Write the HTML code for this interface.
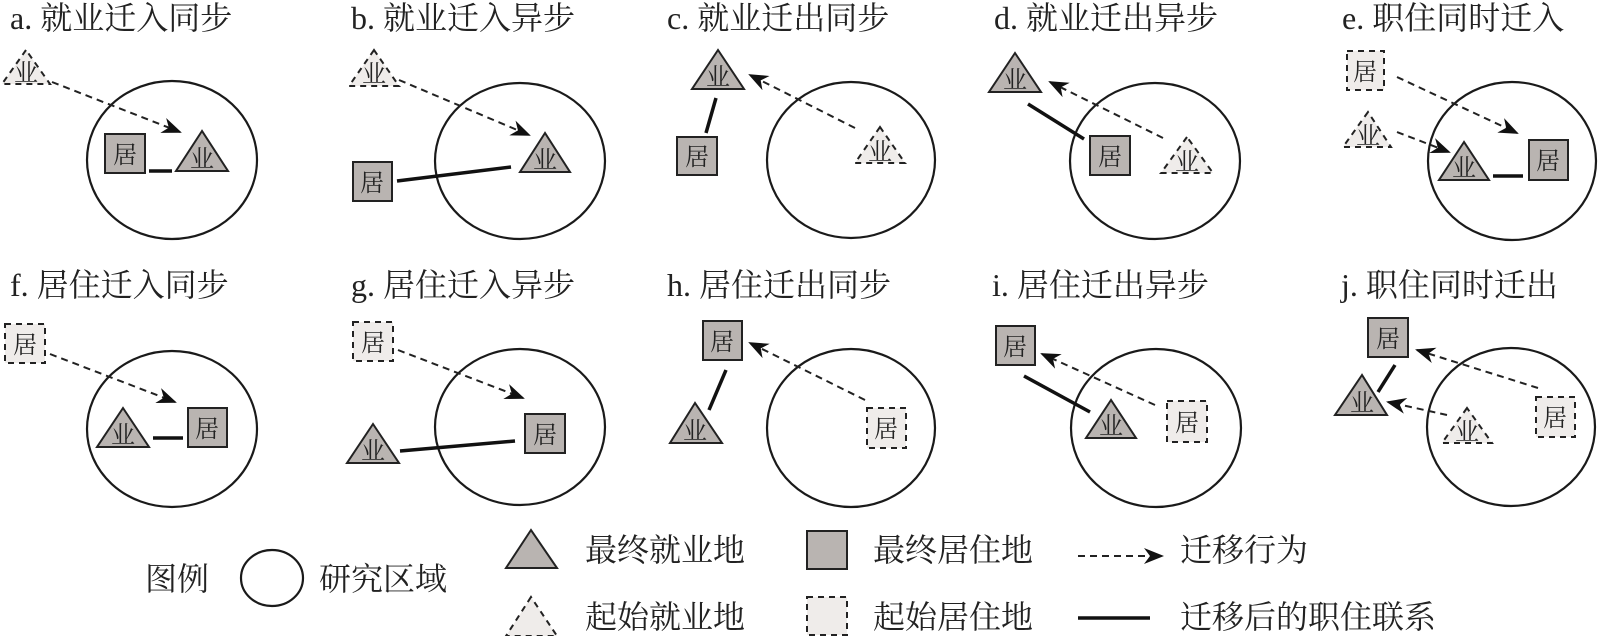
<!DOCTYPE html>
<html><head><meta charset="utf-8"><style>
html,body{margin:0;padding:0;background:#fff;}
svg{display:block;}
text{font-family:"Liberation Serif","Noto Serif CJK SC","Noto Sans CJK SC",serif;fill:#222;}
.t{font-size:32px;}
.l{font-size:32px;}
.s{font-size:24px;text-anchor:middle;}
.c{fill:none;stroke:#1a1a1a;stroke-width:2.2;}
.ft{fill:#b9b4b1;stroke:#222;stroke-width:2;}
.dt{fill:#efecea;stroke:#222;stroke-width:2;stroke-dasharray:6,5;}
.ln{stroke:#111;stroke-width:3.5;}
.ar{stroke:#222;stroke-width:2;stroke-dasharray:7,5;fill:none;}
</style></head><body>
<svg width="1598" height="636" viewBox="0 0 1598 636" xmlns="http://www.w3.org/2000/svg">
<defs>
<marker id="ah" markerWidth="20" markerHeight="16" refX="18" refY="8" orient="auto" markerUnits="userSpaceOnUse">
<path d="M0,0 L20,8 L0,16 L6,8 Z" fill="#111"/>
</marker>
</defs>

<text class="t" x="10" y="29">a. 就业迁入同步</text>
<text class="t" x="351" y="29">b. 就业迁入异步</text>
<text class="t" x="667" y="29">c. 就业迁出同步</text>
<text class="t" x="994" y="29">d. 就业迁出异步</text>
<text class="t" x="1342" y="29">e. 职住同时迁入</text>
<text class="t" x="10" y="296">f. 居住迁入同步</text>
<text class="t" x="351" y="296">g. 居住迁入异步</text>
<text class="t" x="667" y="296">h. 居住迁出同步</text>
<text class="t" x="992" y="296">i. 居住迁出异步</text>
<text class="t" x="1341" y="296">j. 职住同时迁出</text>

<!-- a -->
<ellipse class="c" cx="172" cy="160" rx="85" ry="79"/>
<polygon class="dt" points="26,50 2,84 50,84"/><text class="s" x="26" y="81">业</text>
<line class="ar" x1="52" y1="82" x2="180" y2="132" marker-end="url(#ah)"/>
<rect class="ft" x="105" y="134" width="40" height="39"/><text class="s" x="125" y="163">居</text>
<line class="ln" x1="149" y1="171" x2="172" y2="171"/>
<polygon class="ft" points="202,131 176,171 228,171"/><text class="s" x="202" y="167">业</text>

<!-- b -->
<ellipse class="c" cx="520" cy="161" rx="85" ry="78"/>
<polygon class="dt" points="374,50 349,86 399,86"/><text class="s" x="374" y="82">业</text>
<line class="ar" x1="399" y1="80" x2="529" y2="135" marker-end="url(#ah)"/>
<rect class="ft" x="353" y="162" width="39" height="39"/><text class="s" x="372" y="191">居</text>
<line class="ln" x1="397" y1="181" x2="511" y2="167"/>
<polygon class="ft" points="545,133 520,172 570,172"/><text class="s" x="545" y="168">业</text>

<!-- c -->
<ellipse class="c" cx="851" cy="160" rx="84" ry="78"/>
<polygon class="ft" points="718,50 692,89 744,89"/><text class="s" x="718" y="85">业</text>
<rect class="ft" x="677" y="137" width="40" height="38"/><text class="s" x="697" y="165">居</text>
<line class="ln" x1="716" y1="98" x2="706" y2="133"/>
<polygon class="dt" points="880,127 855,163 905,163"/><text class="s" x="880" y="160">业</text>
<line class="ar" x1="855" y1="128" x2="750" y2="75" marker-end="url(#ah)"/>

<!-- d -->
<ellipse class="c" cx="1155" cy="161" rx="85" ry="78"/>
<polygon class="ft" points="1015,53 989,92 1041,92"/><text class="s" x="1015" y="88">业</text>
<rect class="ft" x="1090" y="136" width="40" height="39"/><text class="s" x="1110" y="165">居</text>
<line class="ln" x1="1028" y1="104" x2="1084" y2="139"/>
<polygon class="dt" points="1187,137 1161,173 1213,173"/><text class="s" x="1187" y="170">业</text>
<line class="ar" x1="1163" y1="138" x2="1050" y2="82" marker-end="url(#ah)"/>

<!-- e -->
<ellipse class="c" cx="1512" cy="161" rx="84" ry="79"/>
<rect class="dt" x="1347" y="51" width="37" height="39"/><text class="s" x="1365" y="80">居</text>
<polygon class="dt" points="1368,112 1343,147 1391,147"/><text class="s" x="1368" y="144">业</text>
<line class="ar" x1="1397" y1="77" x2="1517" y2="133" marker-end="url(#ah)"/>
<line class="ar" x1="1397" y1="132" x2="1449" y2="152" marker-end="url(#ah)"/>
<polygon class="ft" points="1464,142 1439,180 1489,180"/><text class="s" x="1464" y="176">业</text>
<line class="ln" x1="1493" y1="176" x2="1523" y2="176"/>
<rect class="ft" x="1529" y="140" width="39" height="40"/><text class="s" x="1548" y="169">居</text>

<!-- f -->
<ellipse class="c" cx="172" cy="429" rx="85" ry="78"/>
<rect class="dt" x="5" y="324" width="40" height="39"/><text class="s" x="25" y="353">居</text>
<line class="ar" x1="50" y1="354" x2="175" y2="402" marker-end="url(#ah)"/>
<polygon class="ft" points="123,408 97,447 149,447"/><text class="s" x="123" y="443">业</text>
<line class="ln" x1="153" y1="438" x2="183" y2="438"/>
<rect class="ft" x="188" y="408" width="39" height="39"/><text class="s" x="207" y="437">居</text>

<!-- g -->
<ellipse class="c" cx="520" cy="427" rx="85" ry="78"/>
<rect class="dt" x="353" y="322" width="40" height="39"/><text class="s" x="373" y="351">居</text>
<line class="ar" x1="398" y1="350" x2="523" y2="398" marker-end="url(#ah)"/>
<polygon class="ft" points="373,424 347,463 399,463"/><text class="s" x="373" y="459">业</text>
<line class="ln" x1="400" y1="451" x2="515" y2="441"/>
<rect class="ft" x="525" y="414" width="40" height="39"/><text class="s" x="545" y="443">居</text>

<!-- h -->
<ellipse class="c" cx="851" cy="428" rx="84" ry="79"/>
<rect class="ft" x="703" y="321" width="39" height="39"/><text class="s" x="722" y="350">居</text>
<polygon class="ft" points="695,403 670,443 722,443"/><text class="s" x="695" y="439">业</text>
<line class="ln" x1="726" y1="370" x2="709" y2="410"/>
<rect class="dt" x="867" y="408" width="39" height="40"/><text class="s" x="886" y="437">居</text>
<line class="ar" x1="865" y1="400" x2="750" y2="343" marker-end="url(#ah)"/>

<!-- i -->
<ellipse class="c" cx="1156" cy="428" rx="85" ry="79"/>
<rect class="ft" x="996" y="326" width="39" height="39"/><text class="s" x="1015" y="355">居</text>
<line class="ln" x1="1024" y1="376" x2="1090" y2="412"/>
<polygon class="ft" points="1111,400 1086,438 1136,438"/><text class="s" x="1111" y="434">业</text>
<rect class="dt" x="1167" y="401" width="40" height="41"/><text class="s" x="1187" y="431">居</text>
<line class="ar" x1="1155" y1="405" x2="1042" y2="354" marker-end="url(#ah)"/>

<!-- j -->
<ellipse class="c" cx="1511" cy="427" rx="84" ry="79"/>
<rect class="ft" x="1368" y="318" width="40" height="39"/><text class="s" x="1388" y="347">居</text>
<line class="ln" x1="1395" y1="365" x2="1378" y2="392"/>
<polygon class="ft" points="1362,375 1335,415 1387,415"/><text class="s" x="1362" y="411">业</text>
<polygon class="dt" points="1467,408 1442,443 1492,443"/><text class="s" x="1467" y="440">业</text>
<rect class="dt" x="1536" y="397" width="39" height="40"/><text class="s" x="1555" y="426">居</text>
<line class="ar" x1="1538" y1="388" x2="1417" y2="350" marker-end="url(#ah)"/>
<line class="ar" x1="1447" y1="415" x2="1388" y2="402" marker-end="url(#ah)"/>

<!-- Legend -->
<text class="l" x="145" y="590">图例</text>
<ellipse class="c" cx="272" cy="578" rx="31" ry="28"/>
<text class="l" x="319" y="590">研究区域</text>
<polygon class="ft" points="531,530 506,568 557,568"/>
<text class="l" x="585" y="561">最终就业地</text>
<polygon class="dt" points="531,597 506,636 557,636"/>
<text class="l" x="585" y="628">起始就业地</text>
<rect class="ft" x="807" y="531" width="40" height="38"/>
<text class="l" x="873" y="561">最终居住地</text>
<rect class="dt" x="807" y="597" width="40" height="38"/>
<text class="l" x="873" y="628">起始居住地</text>
<line class="ar" x1="1078" y1="556" x2="1162" y2="556" marker-end="url(#ah)"/>
<text class="l" x="1180" y="561">迁移行为</text>
<line class="ln" x1="1078" y1="618" x2="1150" y2="618"/>
<text class="l" x="1180" y="628">迁移后的职住联系</text>
</svg>
</body></html>
